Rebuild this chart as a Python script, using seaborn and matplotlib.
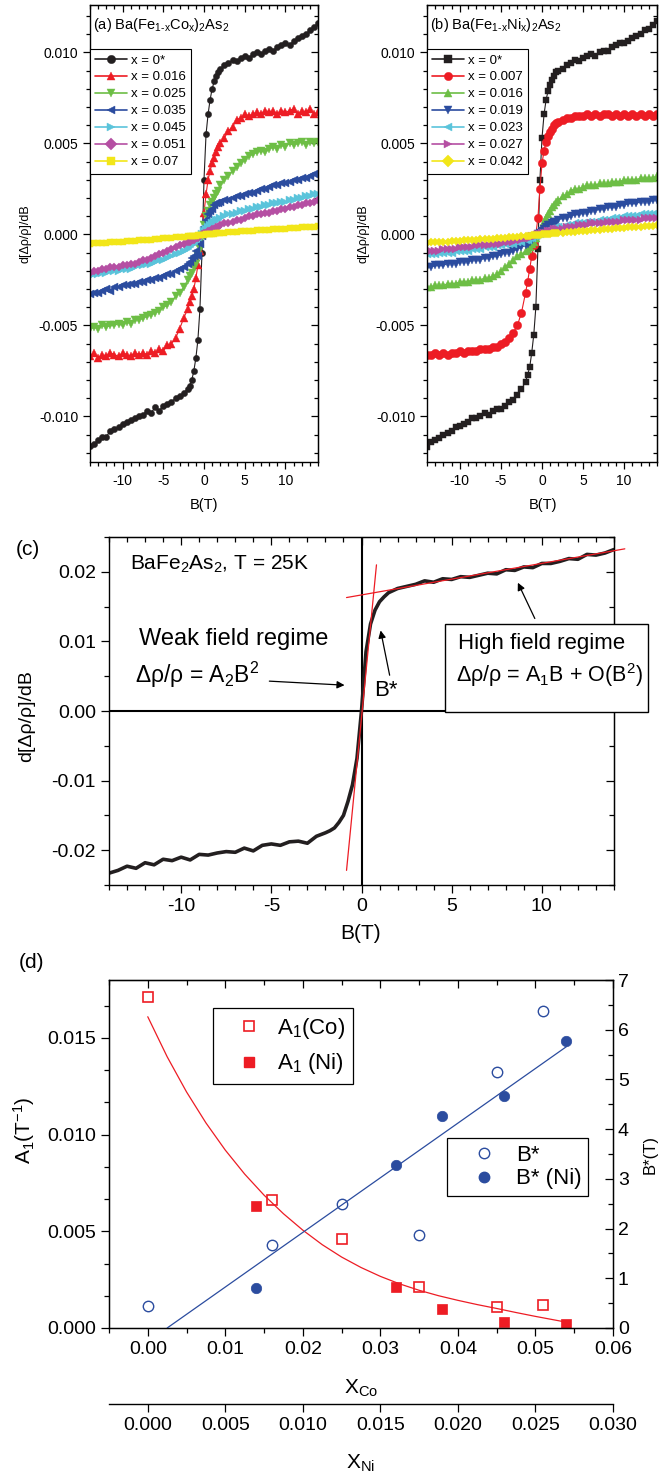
import matplotlib
matplotlib.use("Agg")
import matplotlib.pyplot as plt
import seaborn as sns
from matplotlib.ticker import MultipleLocator, AutoMinorLocator, FuncFormatter, FixedLocator
from matplotlib.lines import Line2D
from matplotlib.patches import Rectangle

sns.set_style("ticks")
plt.rcParams['font.family'] = ['Liberation Sans', 'DejaVu Sans']
plt.rcParams['mathtext.fontset'] = 'custom'
plt.rcParams['mathtext.rm'] = 'Liberation Sans'
plt.rcParams['mathtext.it'] = 'Liberation Sans:italic'
plt.rcParams['mathtext.bf'] = 'Liberation Sans:bold'
plt.rcParams['mathtext.default'] = 'regular'
plt.rcParams['axes.unicode_minus'] = False
for k in ['axes.edgecolor', 'text.color', 'axes.labelcolor', 'xtick.color', 'ytick.color']:
    plt.rcParams[k] = 'black'

# ---------------- data ----------------
B_FIELD = [-14, -13.5, -13, -12.5, -12, -11.5, -11, -10.5, -10, -9.5, -9, -8.5, -8, -7.5, -7, -6.5, -6, -5.5, -5, -4.5, -4, -3.5, -3, -2.5, -2,
           -1.75, -1.5, -1.25, -1, -0.75, -0.5, -0.25, 0, 0.25, 0.5, 0.75, 1, 1.25, 1.5, 1.75,
           2, 2.5, 3, 3.5, 4, 4.5, 5, 5.5, 6, 6.5, 7, 7.5, 8, 8.5, 9, 9.5, 10, 10.5, 11, 11.5, 12, 12.5, 13, 13.5, 14]

# panel (a): Ba(Fe1-xCox)2As2
co_labels = ['x = 0*', 'x = 0.016', 'x = 0.025', 'x = 0.035', 'x = 0.045', 'x = 0.051', 'x = 0.07']
co_x0 = [-0.0116, -0.0115, -0.0113, -0.0111, -0.0111, -0.0108, -0.0107, -0.0106, -0.0104, -0.0103, -0.0102, -0.0101, -0.0100, -0.0099, -0.0097, -0.0098, -0.0095, -0.0097, -0.0094, -0.0093, -0.0092, -0.0090, -0.0089, -0.0087, -0.0085,
         -0.0083, -0.0080, -0.0075, -0.0068, -0.0058, -0.0041, -0.0010, 0.0030, 0.0055, 0.0066, 0.0074, 0.0080, 0.0084, 0.0087, 0.0089,
         0.0091, 0.0093, 0.0094, 0.0096, 0.0095, 0.0097, 0.0098, 0.0097, 0.0099, 0.0100, 0.0099, 0.0101, 0.0102, 0.0101, 0.0103, 0.0104, 0.0105, 0.0104, 0.0106, 0.0108, 0.0109, 0.0110, 0.0112, 0.0114, 0.0116]
co_x016 = [-0.0067, -0.0065, -0.0068, -0.0066, -0.0067, -0.0065, -0.0066, -0.0067, -0.0065, -0.0066, -0.0067, -0.0065, -0.0066, -0.0065, -0.0066, -0.0064, -0.0065, -0.0063, -0.0064, -0.0061, -0.0060, -0.0057, -0.0052, -0.0046, -0.0041,
           -0.0037, -0.0034, -0.0030, -0.0024, -0.0017, -0.0009, 0.0000, 0.0012, 0.0022, 0.0030, 0.0035, 0.0039, 0.0042, 0.0045, 0.0048,
           0.0050, 0.0053, 0.0057, 0.0059, 0.0063, 0.0064, 0.0066, 0.0065, 0.0066, 0.0067, 0.0066, 0.0068, 0.0067, 0.0068, 0.0066, 0.0068, 0.0067, 0.0068, 0.0069, 0.0066, 0.0068, 0.0067, 0.0069, 0.0066, 0.0067]
co_x025 = [-0.0052, -0.0051, -0.0052, -0.0050, -0.0051, -0.0050, -0.0050, -0.0049, -0.0050, -0.0048, -0.0049, -0.0047, -0.0047, -0.0046, -0.0045, -0.0044, -0.0043, -0.0042, -0.0040, -0.0039, -0.0037, -0.0034, -0.0032, -0.0029, -0.0025,
           -0.0023, -0.0021, -0.0018, -0.0016, -0.0012, -0.0008, -0.0002, 0.0005, 0.0010, 0.0013, 0.0016, 0.0018, 0.0020, 0.0022, 0.0024,
           0.0027, 0.0030, 0.0032, 0.0035, 0.0037, 0.0039, 0.0041, 0.0043, 0.0044, 0.0045, 0.0046, 0.0045, 0.0047, 0.0048, 0.0047, 0.0049, 0.0048, 0.0050, 0.0049, 0.0050, 0.0051, 0.0049, 0.0051, 0.0050, 0.0051]
co_x035 = [-0.0033, -0.0032, -0.0032, -0.0031, -0.0030, -0.0031, -0.0029, -0.0029, -0.0028, -0.0028, -0.0027, -0.0027, -0.0026, -0.0026, -0.0025, -0.0025, -0.0024, -0.0024, -0.0023, -0.0022, -0.0022, -0.0020, -0.0019, -0.0018, -0.0016,
           -0.0015, -0.0013, -0.0012, -0.0009, -0.0012, -0.0005, -0.0001, 0.0004, 0.0008, 0.0011, 0.0013, 0.0014, 0.0016, 0.0017, 0.0017,
           0.0018, 0.0019, 0.0019, 0.0020, 0.0021, 0.0021, 0.0022, 0.0023, 0.0023, 0.0024, 0.0025, 0.0025, 0.0026, 0.0027, 0.0027, 0.0028, 0.0028, 0.0029, 0.0030, 0.0030, 0.0031, 0.0031, 0.0032, 0.0033, 0.0033]
co_x045 = [-0.0023, -0.0022, -0.0022, -0.0021, -0.0021, -0.0020, -0.0020, -0.0020, -0.0019, -0.0019, -0.0019, -0.0018, -0.0017, -0.0017, -0.0016, -0.0016, -0.0015, -0.0014, -0.0014, -0.0013, -0.0012, -0.0011, -0.0010, -0.0009, -0.0008,
           -0.0007, -0.0006, -0.0005, -0.0004, -0.0003, -0.0002, 0.0000, 0.0002, 0.0003, 0.0004, 0.0005, 0.0006, 0.0007, 0.0008, 0.0008,
           0.0009, 0.0010, 0.0011, 0.0011, 0.0012, 0.0013, 0.0013, 0.0014, 0.0014, 0.0015, 0.0015, 0.0016, 0.0016, 0.0017, 0.0017, 0.0018, 0.0018, 0.0019, 0.0019, 0.0020, 0.0020, 0.0021, 0.0021, 0.0022, 0.0022]
co_x051 = [-0.0021, -0.0020, -0.0020, -0.0019, -0.0019, -0.0018, -0.0018, -0.0018, -0.0017, -0.0017, -0.0016, -0.0016, -0.0015, -0.0014, -0.0014, -0.0013, -0.0012, -0.0011, -0.0010, -0.0009, -0.0008, -0.0007, -0.0006, -0.0005, -0.0004,
           -0.0004, -0.0003, -0.0003, -0.0002, -0.0002, -0.0001, 0.0000, 0.0001, 0.0001, 0.0002, 0.0002, 0.0003, 0.0003, 0.0004, 0.0004,
           0.0005, 0.0006, 0.0006, 0.0007, 0.0008, 0.0008, 0.0009, 0.0010, 0.0010, 0.0011, 0.0011, 0.0012, 0.0012, 0.0013, 0.0013, 0.0014, 0.0014, 0.0015, 0.0015, 0.0016, 0.0016, 0.0017, 0.0017, 0.0018, 0.0019]
co_x07 = [-0.00050, -0.00049, -0.00048, -0.00046, -0.00045, -0.00044, -0.00042, -0.00041, -0.00039, -0.00038, -0.00036, -0.00035, -0.00033, -0.00031, -0.00030, -0.00028, -0.00026, -0.00024, -0.00022, -0.00020, -0.00018, -0.00016, -0.00014, -0.00012, -0.00010,
          -0.00009, -0.00008, -0.00007, -0.00006, -0.00005, -0.00004, -0.00003, -0.00002, 0.00000, 0.00001, 0.00002, 0.00003, 0.00004, 0.00005, 0.00006,
          0.00007, 0.00009, 0.00011, 0.00012, 0.00014, 0.00016, 0.00017, 0.00019, 0.00020, 0.00022, 0.00023, 0.00025, 0.00026, 0.00028, 0.00029, 0.00031, 0.00032, 0.00034, 0.00035, 0.00037, 0.00038, 0.00040, 0.00041, 0.00043, 0.00045]

# panel (b): Ba(Fe1-xNix)2As2
ni_labels = ['x = 0*', 'x = 0.007', 'x = 0.016', 'x = 0.019', 'x = 0.023', 'x = 0.027', 'x = 0.042']
ni_x0 = [-0.0117, -0.0114, -0.0113, -0.0112, -0.0110, -0.0109, -0.0108, -0.0106, -0.0105, -0.0104, -0.0103, -0.0101, -0.0101, -0.0100, -0.0098, -0.0099, -0.0097, -0.0096, -0.0096, -0.0094, -0.0092, -0.0091, -0.0088, -0.0085, -0.0081,
         -0.0077, -0.0073, -0.0065, -0.0055, -0.0040, -0.0008, 0.0030, 0.0053, 0.0066, 0.0074, 0.0079, 0.0082, 0.0085, 0.0087, 0.0089,
         0.0090, 0.0091, 0.0093, 0.0094, 0.0096, 0.0095, 0.0097, 0.0098, 0.0099, 0.0098, 0.0100, 0.0101, 0.0101, 0.0103, 0.0104, 0.0105, 0.0105, 0.0106, 0.0108, 0.0109, 0.0110, 0.0112, 0.0113, 0.0115, 0.0117]
ni_x007 = [-0.0066, -0.0066, -0.0065, -0.0066, -0.0065, -0.0066, -0.0065, -0.0065, -0.0064, -0.0065, -0.0064, -0.0064, -0.0064, -0.0063, -0.0063, -0.0063, -0.0062, -0.0062, -0.0060, -0.0059, -0.0057, -0.0054, -0.0050, -0.0043, -0.0032,
           -0.0026, -0.0019, -0.0012, -0.0006, 0.0000, 0.0009, 0.0025, 0.0039, 0.0046, 0.0051, 0.0054, 0.0056, 0.0058, 0.0060, 0.0061,
           0.0062, 0.0063, 0.0064, 0.0064, 0.0065, 0.0065, 0.0065, 0.0066, 0.0065, 0.0066, 0.0065, 0.0066, 0.0066, 0.0065, 0.0066, 0.0065, 0.0066, 0.0065, 0.0066, 0.0065, 0.0066, 0.0065, 0.0066, 0.0065, 0.0066]
ni_x016 = [-0.0029, -0.0029, -0.0028, -0.0028, -0.0028, -0.0027, -0.0027, -0.0027, -0.0026, -0.0026, -0.0026, -0.0025, -0.0025, -0.0025, -0.0024, -0.0024, -0.0023, -0.0022, -0.0020, -0.0018, -0.0016, -0.0014, -0.0012, -0.0011, -0.0009,
           -0.0008, -0.0007, -0.0005, -0.0004, -0.0002, 0.0000, 0.0002, 0.0004, 0.0007, 0.0009, 0.0011, 0.0013, 0.0015, 0.0016, 0.0018,
           0.0019, 0.0021, 0.0022, 0.0024, 0.0025, 0.0025, 0.0026, 0.0027, 0.0027, 0.0027, 0.0028, 0.0028, 0.0028, 0.0029, 0.0029, 0.0029, 0.0030, 0.0030, 0.0030, 0.0030, 0.0031, 0.0031, 0.0031, 0.0031, 0.0032]
ni_x019 = [-0.0018, -0.0018, -0.0017, -0.0017, -0.0017, -0.0016, -0.0016, -0.0016, -0.0015, -0.0015, -0.0015, -0.0014, -0.0014, -0.0014, -0.0013, -0.0013, -0.0012, -0.0012, -0.0011, -0.0010, -0.0010, -0.0009, -0.0008, -0.0007, -0.0006,
           -0.0005, -0.0004, -0.0003, -0.0002, -0.0001, 0.0000, 0.0001, 0.0002, 0.0003, 0.0004, 0.0005, 0.0005, 0.0006, 0.0007, 0.0007,
           0.0008, 0.0009, 0.0009, 0.0010, 0.0011, 0.0011, 0.0012, 0.0012, 0.0013, 0.0013, 0.0014, 0.0014, 0.0015, 0.0015, 0.0015, 0.0016, 0.0016, 0.0017, 0.0017, 0.0017, 0.0018, 0.0018, 0.0018, 0.0019, 0.0019]
ni_x023 = [-0.0011, -0.0011, -0.0011, -0.0010, -0.0010, -0.0010, -0.0010, -0.0009, -0.0009, -0.0009, -0.0009, -0.0008, -0.0008, -0.0008, -0.0007, -0.0007, -0.0007, -0.0006, -0.0006, -0.0005, -0.0005, -0.0005, -0.0004, -0.0004, -0.0003,
           -0.0003, -0.0002, -0.0002, -0.0001, -0.0001, 0.0000, 0.0000, 0.0001, 0.0001, 0.0002, 0.0002, 0.0003, 0.0003, 0.0003, 0.0004,
           0.0004, 0.0004, 0.0005, 0.0005, 0.0006, 0.0006, 0.0006, 0.0007, 0.0007, 0.0007, 0.0008, 0.0008, 0.0008, 0.0009, 0.0009, 0.0009, 0.0010, 0.0010, 0.0010, 0.0010, 0.0011, 0.0011, 0.0011, 0.0011, 0.0012]
ni_x027 = [-0.0009, -0.0009, -0.0009, -0.0009, -0.0008, -0.0008, -0.0008, -0.0008, -0.0007, -0.0007, -0.0007, -0.0007, -0.0006, -0.0006, -0.0006, -0.0006, -0.0005, -0.0005, -0.0005, -0.0004, -0.0004, -0.0004, -0.0003, -0.0003, -0.0002,
           -0.0002, -0.0002, -0.0001, -0.0001, -0.0001, 0.0000, 0.0000, 0.0001, 0.0001, 0.0001, 0.0002, 0.0002, 0.0002, 0.0003, 0.0003,
           0.0003, 0.0003, 0.0004, 0.0004, 0.0004, 0.0005, 0.0005, 0.0005, 0.0006, 0.0006, 0.0006, 0.0006, 0.0007, 0.0007, 0.0007, 0.0007, 0.0008, 0.0008, 0.0008, 0.0008, 0.0008, 0.0009, 0.0009, 0.0009, 0.0009]
ni_x042 = [-0.00045, -0.00044, -0.00043, -0.00041, -0.00040, -0.00039, -0.00037, -0.00036, -0.00035, -0.00033, -0.00032, -0.00030, -0.00029, -0.00027, -0.00026, -0.00024, -0.00023, -0.00021, -0.00019, -0.00018, -0.00016, -0.00014, -0.00012, -0.00010, -0.00008,
           -0.00007, -0.00006, -0.00005, -0.00004, -0.00003, -0.00002, -0.00001, 0.00000, 0.00001, 0.00002, 0.00003, 0.00004, 0.00005, 0.00006, 0.00007,
           0.00008, 0.00010, 0.00012, 0.00013, 0.00015, 0.00017, 0.00019, 0.00020, 0.00022, 0.00024, 0.00026, 0.00027, 0.00029, 0.00031, 0.00033, 0.00034, 0.00036, 0.00038, 0.00040, 0.00041, 0.00043, 0.00045, 0.00047, 0.00048, 0.00050]

# panel (c): BaFe2As2 at 25 K
bafe_25K = [-0.0233, -0.0229, -0.0223, -0.0226, -0.0218, -0.0221, -0.0213, -0.0215, -0.0210, -0.0214, -0.0206, -0.0207, -0.0204, -0.0202, -0.0203, -0.0197, -0.0201, -0.0193, -0.0191, -0.0193, -0.0188, -0.0187, -0.0190, -0.0180, -0.0175,
            -0.0172, -0.0168, -0.0160, -0.0150, -0.0130, -0.0106, -0.0068, 0.0000, 0.0085, 0.0125, 0.0145, 0.0157, 0.0164, 0.0170, 0.0173,
            0.0176, 0.0179, 0.0182, 0.0187, 0.0185, 0.0190, 0.0189, 0.0193, 0.0192, 0.0195, 0.0198, 0.0197, 0.0203, 0.0202, 0.0207, 0.0206, 0.0212, 0.0212, 0.0215, 0.0219, 0.0218, 0.0225, 0.0224, 0.0227, 0.0232]
weak_fit_B = [-0.83, 0.83]
weak_fit_v = [-0.0229, 0.0210]
high_fit_B = [-0.83, 14.6]
high_fit_v = [0.0163, 0.0233]

# panel (d)
co_conc = [0.000, 0.016, 0.025, 0.035, 0.045, 0.051]
A1_co = [0.0171, 0.0066, 0.0046, 0.0021, 0.0011, 0.0012]
Bstar_co = [0.44, 1.67, 2.49, 1.87, 5.15, 6.37]
ni_conc = [0.007, 0.016, 0.019, 0.023, 0.027]
A1_ni = [0.0063, 0.0021, 0.0010, 0.0003, 0.0002]
Bstar_ni = [0.81, 3.27, 4.27, 4.67, 5.77]
A1_fit_x = [0.0, 0.0025, 0.005, 0.0075, 0.01, 0.0125, 0.015, 0.0175, 0.02, 0.0225, 0.025, 0.0275,
            0.03, 0.0325, 0.035, 0.0375, 0.04, 0.0425, 0.045, 0.0475, 0.05, 0.052, 0.054]
A1_fit_y = [0.0161, 0.01403, 0.01221, 0.01061, 0.0092, 0.00796, 0.00687, 0.00591, 0.00506, 0.00431, 0.00367, 0.00313,
            0.00267, 0.00228, 0.00195, 0.00167, 0.00143, 0.00121, 0.00101, 0.0008, 0.0006, 0.00045, 0.0003]
Bstar_fit_x = [0.0025, 0.054]
Bstar_fit_y = [0.0, 5.66]
ni_axis_ticks = [0.000, 0.005, 0.010, 0.015, 0.020, 0.025, 0.030]

co_series = [co_x0, co_x016, co_x025, co_x035, co_x045, co_x051, co_x07]
ni_series = [ni_x0, ni_x007, ni_x016, ni_x019, ni_x023, ni_x027, ni_x042]
for name, s in zip(co_labels + ni_labels + ['c'], co_series + ni_series + [bafe_25K]):
    if len(s) != len(B_FIELD):
        raise ValueError(f"length mismatch {name}: {len(s)}")

BLACK = '#231F20'
RED = '#ED1C24'
GREEN = '#6DBE45'
BLUE = '#2B4C9F'
CYAN = '#5BC4DB'
MAGENTA = '#B54FA3'
YELLOW = '#F2E619'
PALETTE = [BLACK, RED, GREEN, BLUE, CYAN, MAGENTA, YELLOW]

# ---------------- figure ----------------
W, H = 666, 1481
fig = plt.figure(figsize=(W / 100, H / 100), dpi=100)


def fx(px):
    return px / W


def fy(py):
    return 1 - py / H


def fmt(n):
    def f(v, p):
        s = f"{v:.{n}f}"
        if float(s) == 0:
            s = s.lstrip('-')
        return s
    return FuncFormatter(f)


def style(ax, xmaj, xmin, ymaj, ymin, labsize, majlen, minlen, right=True):
    ax.xaxis.set_major_locator(MultipleLocator(xmaj))
    ax.xaxis.set_minor_locator(MultipleLocator(xmin))
    ax.yaxis.set_major_locator(MultipleLocator(ymaj))
    if isinstance(ymin, int):
        ax.yaxis.set_minor_locator(AutoMinorLocator(ymin))
    else:
        ax.yaxis.set_minor_locator(MultipleLocator(ymin))
    ax.tick_params(which='both', direction='out', top=False, right=False,
                   labelsize=labsize, width=0.9)
    ax.tick_params(which='major', length=majlen)
    ax.tick_params(which='minor', length=minlen)
    for sp in ax.spines.values():
        sp.set_linewidth(1.0)
        sp.set_visible(True)
    top = ax.secondary_xaxis('top')
    top.xaxis.set_major_locator(MultipleLocator(xmaj))
    top.xaxis.set_minor_locator(MultipleLocator(xmin))
    top.tick_params(which='both', direction='in', labeltop=False, width=0.9)
    top.tick_params(which='major', length=majlen)
    top.tick_params(which='minor', length=minlen)
    if right:
        r = ax.secondary_yaxis('right')
        r.yaxis.set_major_locator(MultipleLocator(ymaj))
        if isinstance(ymin, int):
            r.yaxis.set_minor_locator(AutoMinorLocator(ymin))
        else:
            r.yaxis.set_minor_locator(MultipleLocator(ymin))
        r.tick_params(which='both', direction='in', labelright=False, width=0.9)
        r.tick_params(which='major', length=majlen)
        r.tick_params(which='minor', length=minlen)


def field_panel(ax, series, labels, markers, sizes, title, xlab_pos, ylab_pos):
    for vals, c, m, ms in zip(series, PALETTE, markers, sizes):
        sns.lineplot(x=B_FIELD, y=vals, ax=ax, color=c, marker=m, markersize=ms,
                     mec=c, mew=0.3, lw=0.8, sort=False, estimator=None, legend=False)
    ax.set_xlim(-14, 14)
    ax.set_ylim(-0.0125, 0.0126)
    style(ax, 5, 1, 0.005, 0.001, 10, 5, 3)
    ax.yaxis.set_major_formatter(fmt(3))
    ax.set_xlabel('B(T)', fontsize=10.5, va='center')
    ax.xaxis.set_label_coords(fx(xlab_pos[0]), fy(xlab_pos[1]), transform=fig.transFigure)
    ax.set_ylabel('d[Δρ/ρ]/dB', fontsize=9, va='center')
    ax.yaxis.set_label_coords(fx(ylab_pos[0]), fy(ylab_pos[1]), transform=fig.transFigure)
    ax.text(3 / 228, 1 - 20 / 457, title, transform=ax.transAxes, fontsize=10.5,
            ha='left', va='center')
    handles = [Line2D([0], [0], color=c, marker=m, markersize=6, mec=c, mew=0.3, lw=1.2)
               for c, m in zip(PALETTE, markers)]
    leg = ax.legend(handles, labels, loc='upper left', bbox_to_anchor=(0, 1 - 44 / 457),
                    borderaxespad=0, fontsize=9.5, frameon=True, fancybox=False,
                    edgecolor='black', framealpha=1, labelspacing=0.36,
                    handlelength=2.4, handletextpad=0.3, borderpad=0.4)
    leg.get_frame().set_linewidth(0.8)


ax_a = fig.add_axes([fx(90), fy(462), 228 / W, 457 / H])
ax_b = fig.add_axes([fx(427), fy(462), 230 / W, 457 / H])
ax_c = fig.add_axes([fx(109), fy(885), 505 / W, 348 / H])
ax_d = fig.add_axes([fx(109), fy(1328), 504 / W, 348 / H])

field_panel(ax_a, co_series, co_labels, ['o', '^', 'v', '<', '>', 'D', 's'],
            [4.5, 5.5, 5.5, 5.5, 5.5, 4.5, 4.5],
            '(a) Ba(Fe$_{1\u2010x}$Co$_x$)$_2$As$_2$', (204, 505), (26, 234))
field_panel(ax_b, ni_series, ni_labels, ['s', 'o', '^', 'v', '<', '>', 'D'],
            [4.5, 6, 5.5, 5.5, 5.5, 5.5, 4.5],
            '(b) Ba(Fe$_{1\u2010x}$Ni$_x$)$_2$As$_2$', (543, 505), (363, 234))

# ---------------- panel (c) ----------------
ax_c.axhline(0, color='black', lw=1.5, zorder=1)
ax_c.axvline(0, color='black', lw=1.5, zorder=1)
sns.lineplot(x=B_FIELD, y=bafe_25K, ax=ax_c, color=BLACK, lw=2.6, sort=False,
             estimator=None, legend=False, zorder=2)
sns.lineplot(x=weak_fit_B, y=weak_fit_v, ax=ax_c, color=RED, lw=0.9, sort=False,
             estimator=None, legend=False, zorder=3)
sns.lineplot(x=high_fit_B, y=high_fit_v, ax=ax_c, color=RED, lw=0.9, sort=False,
             estimator=None, legend=False, zorder=3)
ax_c.lines[-1].set_clip_on(False)
ax_c.set_xlim(-14, 14)
ax_c.set_ylim(-0.025, 0.025)
style(ax_c, 5, 1, 0.01, 0.005, 14, 6, 3.5)
ax_c.yaxis.set_major_formatter(fmt(2))
ax_c.set_xlabel('B(T)', fontsize=15, va='center')
ax_c.xaxis.set_label_coords(fx(361), fy(933), transform=fig.transFigure)
ax_c.set_ylabel('d[Δρ/ρ]/dB', fontsize=14, va='center')
ax_c.yaxis.set_label_coords(fx(27), fy(716), transform=fig.transFigure)

ax_c.text(-12.83, 0.0211, 'BaFe$_2$As$_2$, T = 25K', fontsize=15, va='center')
ax_c.text(-12.33, 0.0104, 'Weak field regime', fontsize=17, va='center')
ax_c.text(-12.56, 0.0052, 'Δρ/ρ = A$_2$B$^2$', fontsize=16.5, va='center')
ax_c.text(1.33, 0.0029, 'B*', fontsize=16, ha='center', va='center')
ax_c.add_patch(Rectangle((4.61, -0.00014), 11.28, 0.01271, facecolor='white',
                         edgecolor='black', lw=1.0, clip_on=False, zorder=5))
ax_c.text(5.33, 0.0097, 'High field regime', fontsize=16, va='center', zorder=6)
ax_c.text(5.22, 0.0051, 'Δρ/ρ = A$_1$B + O(B$^2$)', fontsize=15.5, va='center', zorder=6)
arrow = dict(arrowstyle='-|>', lw=0.9, color='black', mutation_scale=11, shrinkA=0, shrinkB=0)
ax_c.annotate('', xy=(-0.94, 0.00371), xytext=(-5.11, 0.00429), arrowprops=arrow)
ax_c.annotate('', xy=(1.06, 0.01157), xytext=(1.56, 0.00514), arrowprops=arrow)
ax_c.annotate('', xy=(8.67, 0.01843), xytext=(9.61, 0.01329), arrowprops=arrow)
fig.text(fx(28), fy(550), '(c)', fontsize=15, ha='center', va='center')

# ---------------- panel (d) ----------------
ax_d2 = ax_d.twinx()
sns.lineplot(x=A1_fit_x, y=A1_fit_y, ax=ax_d, color=RED, lw=0.9, sort=False,
             estimator=None, legend=False)
sns.lineplot(x=co_conc, y=A1_co, ax=ax_d, ls='', marker='s', markersize=7,
             mfc='none', mec=RED, mew=1.2, color=RED, sort=False, estimator=None, legend=False)
sns.lineplot(x=[2 * v for v in ni_conc], y=A1_ni, ax=ax_d, ls='', marker='s', markersize=7,
             mfc=RED, mec=RED, mew=0.5, color=RED, sort=False, estimator=None, legend=False)
sns.lineplot(x=Bstar_fit_x, y=Bstar_fit_y, ax=ax_d2, color=BLUE, lw=0.9, sort=False,
             estimator=None, legend=False)
sns.lineplot(x=co_conc, y=Bstar_co, ax=ax_d2, ls='', marker='o', markersize=7.5,
             mfc='none', mec=BLUE, mew=1.0, color=BLUE, sort=False, estimator=None, legend=False)
sns.lineplot(x=[2 * v for v in ni_conc], y=Bstar_ni, ax=ax_d2, ls='', marker='o', markersize=7.5,
             mfc=BLUE, mec=BLUE, mew=0.5, color=BLUE, sort=False, estimator=None, legend=False)

ax_d.set_xlim(-0.005, 0.06)
ax_d.set_ylim(0, 0.018)
ax_d2.set_ylim(0, 7)
style(ax_d, 0.01, 0.005, 0.005, 3, 14, 6, 3.5, right=False)
ax_d.xaxis.set_major_formatter(fmt(2))
ax_d.yaxis.set_major_formatter(fmt(3))
ax_d2.yaxis.set_major_locator(MultipleLocator(1))
ax_d2.yaxis.set_minor_locator(MultipleLocator(0.5))
ax_d2.tick_params(which='both', direction='in', right=True, left=False, labelright=True,
                  labelsize=14, width=0.9)
ax_d2.tick_params(which='major', length=6)
ax_d2.tick_params(which='minor', length=3.5)
ax_d2.set_ylabel('B*(T)', fontsize=12, va='center')
ax_d2.yaxis.set_label_coords(fx(650), fy(1155), transform=fig.transFigure)

ax_d.set_xlabel('X$_{Co}$', fontsize=15, va='center')
ax_d.xaxis.set_label_coords(fx(361), fy(1388), transform=fig.transFigure)
ax_d.set_ylabel('A$_1$(T$^{-1}$)', fontsize=15, va='center')
ax_d.yaxis.set_label_coords(fx(24), fy(1130), transform=fig.transFigure)

sec = ax_d.secondary_xaxis(-76 / 348, functions=(lambda v: v / 2, lambda v: v * 2))
sec.xaxis.set_major_locator(FixedLocator(ni_axis_ticks))
sec.xaxis.set_major_formatter(fmt(3))
sec.tick_params(direction='out', length=6, width=0.9, labelsize=14)
sec.spines['bottom'].set_linewidth(1.0)
sec.set_xlabel('X$_{Ni}$', fontsize=15, va='center')
sec.xaxis.set_label_coords(fx(361), fy(1463), transform=fig.transFigure)

h1 = [Line2D([], [], ls='', marker='s', markersize=7, mfc='none', mec=RED, mew=1.2),
      Line2D([], [], ls='', marker='s', markersize=7, mfc=RED, mec=RED)]
leg1 = ax_d.legend(h1, ['A$_1$(Co)', 'A$_1$ (Ni)'], loc='upper left',
                   bbox_to_anchor=(fx(213), fy(1008)), bbox_transform=fig.transFigure,
                   borderaxespad=0, fontsize=16, frameon=True, fancybox=False,
                   edgecolor='black', framealpha=1, labelspacing=0.48,
                   handlelength=2.5, handletextpad=0.05, borderpad=0.35)
leg1.get_frame().set_linewidth(0.9)
h2 = [Line2D([], [], ls='', marker='o', markersize=7.5, mfc='none', mec=BLUE, mew=1.0),
      Line2D([], [], ls='', marker='o', markersize=7.5, mfc=BLUE, mec=BLUE)]
leg2 = ax_d2.legend(h2, ['B*', 'B* (Ni)'], loc='upper left',
                    bbox_to_anchor=(fx(447), fy(1138)), bbox_transform=fig.transFigure,
                    borderaxespad=0, fontsize=16, frameon=True, fancybox=False,
                    edgecolor='black', framealpha=1, labelspacing=0.12,
                    handlelength=2.75, handletextpad=0.05, borderpad=0.3)
leg2.get_frame().set_linewidth(0.9)
fig.text(fx(31), fy(963), '(d)', fontsize=15, ha='center', va='center')

fig.savefig('out.png', dpi=100)
